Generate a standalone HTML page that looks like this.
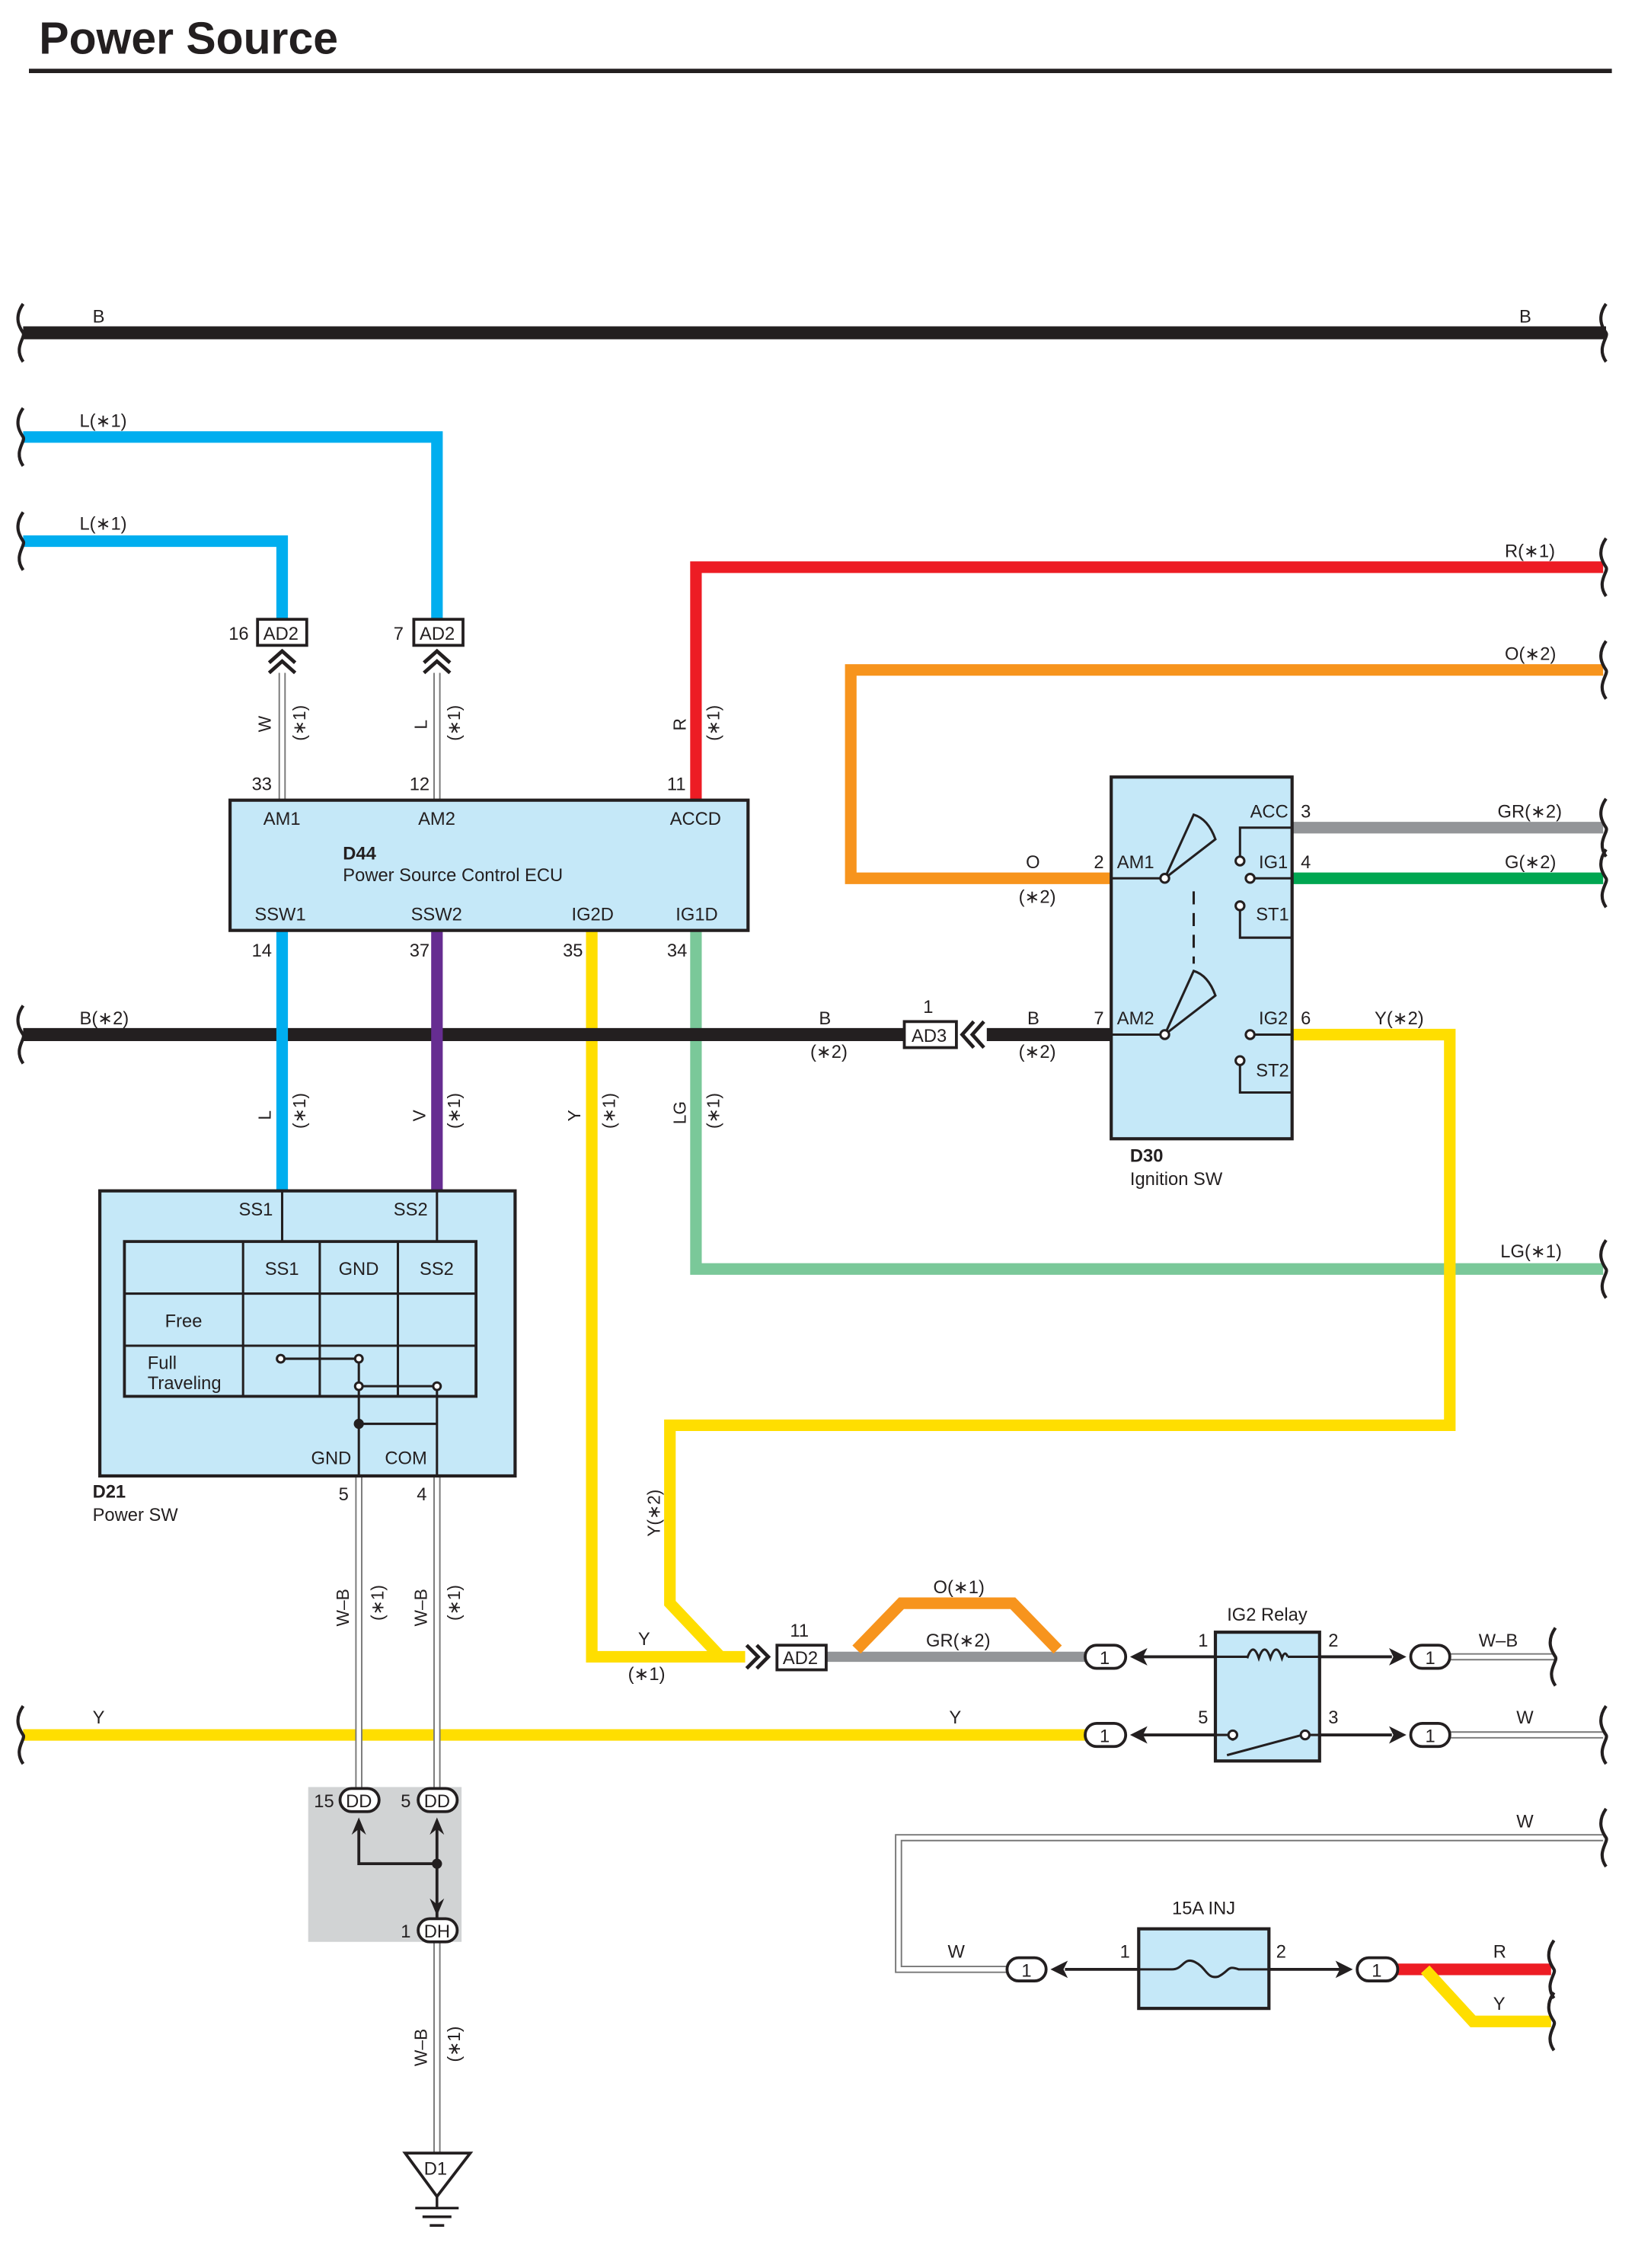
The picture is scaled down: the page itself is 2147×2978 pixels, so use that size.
<!DOCTYPE html>
<html><head><meta charset="utf-8"><style>html,body{margin:0;padding:0;background:#fff}svg{display:block}</style></head>
<body>
<svg width="2147" height="2978" viewBox="0 0 1130 1567.4" preserveAspectRatio="none" xmlns="http://www.w3.org/2000/svg" font-family="Liberation Sans, sans-serif" font-size="12.5" fill="#231f20">
<defs>
<path id="brL" d="M0,-20 C-7,-10 -2,-3 0,0 C2,3 -7,10 0,20" fill="none" stroke="#231f20" stroke-width="2.2"/>
</defs>
<text x="27" y="37" font-size="31" font-weight="bold">Power Source</text>
<line x1="20" y1="49" x2="1114" y2="49" stroke="#231f20" stroke-width="3"/>

<g fill="none" stroke-linejoin="miter">
<line x1="16" y1="230" x2="1110" y2="230" stroke="#231f20" stroke-width="9"/>
<path d="M16,302 H302 V428" stroke="#00aeef" stroke-width="8"/>
<path d="M16,374 H195 V428" stroke="#00aeef" stroke-width="8"/>
<path d="M481,553 V392 H1108" stroke="#ed1c24" stroke-width="8"/>
<path d="M1108,463 H588 V607 H768" stroke="#f7941d" stroke-width="8"/>
<line x1="893" y1="572" x2="1108" y2="572" stroke="#939598" stroke-width="8"/>
<line x1="893" y1="607" x2="1108" y2="607" stroke="#00a651" stroke-width="8"/>
<path d="M481,643 V877 H1108" stroke="#7ac899" stroke-width="8"/>
<path d="M893,715 H1002 V985 H463 V1108 L498,1145" stroke="#ffde00" stroke-width="8"/>
<path d="M409,643 V1145 H515" stroke="#ffde00" stroke-width="8"/>
<line x1="16" y1="715" x2="625" y2="715" stroke="#231f20" stroke-width="9"/>
<line x1="682" y1="715" x2="768" y2="715" stroke="#231f20" stroke-width="9"/>
<line x1="195" y1="643" x2="195" y2="823" stroke="#00aeef" stroke-width="8"/>
<line x1="302" y1="643" x2="302" y2="823" stroke="#662d91" stroke-width="8"/>
<line x1="16" y1="1199" x2="750" y2="1199" stroke="#ffde00" stroke-width="8"/>
<line x1="571" y1="1145" x2="750" y2="1145" stroke="#939598" stroke-width="7"/>
<path d="M592,1140 L623,1108 H700 L731,1140" stroke="#f7941d" stroke-width="8"/>
<line x1="966" y1="1361" x2="1072" y2="1361" stroke="#ed1c24" stroke-width="8"/>
<path d="M985,1361 L1018,1397 H1072" stroke="#ffde00" stroke-width="8"/>
</g>

<g fill="none">
<g stroke="#777" stroke-width="5"><line x1="195" y1="465" x2="195" y2="553"/><line x1="302" y1="465" x2="302" y2="553"/>
<line x1="248" y1="1020" x2="248" y2="1236"/><line x1="302" y1="1020" x2="302" y2="1236"/><line x1="302" y1="1342" x2="302" y2="1488"/>
<line x1="1001" y1="1145" x2="1075" y2="1145"/><line x1="1001" y1="1199" x2="1108" y2="1199"/>
<path d="M1108,1270 H621 V1361 H696"/></g>
<g stroke="#fff" stroke-width="3"><line x1="195" y1="465" x2="195" y2="553"/><line x1="302" y1="465" x2="302" y2="553"/>
<line x1="248" y1="1020" x2="248" y2="1236"/><line x1="302" y1="1020" x2="302" y2="1236"/><line x1="302" y1="1342" x2="302" y2="1488"/>
<line x1="1001" y1="1145" x2="1075" y2="1145"/><line x1="1001" y1="1199" x2="1108" y2="1199"/>
<path d="M1108,1270 H621 V1361 H696"/></g>
<g stroke="#231f20" stroke-width="2">
<line x1="790" y1="1145" x2="840" y2="1145"/><line x1="790" y1="1199" x2="840" y2="1199"/>
<line x1="912" y1="1145" x2="962" y2="1145"/><line x1="912" y1="1199" x2="962" y2="1199"/>
<line x1="736" y1="1361" x2="787" y2="1361"/><line x1="877" y1="1361" x2="926" y2="1361"/></g>
</g>

<g>
<use href="#brL" x="16" y="230"/><use href="#brL" x="1110" y="230"/>
<use href="#brL" x="16" y="302"/><use href="#brL" x="16" y="374"/>
<use href="#brL" x="1110" y="392"/><use href="#brL" x="1110" y="463"/>
<use href="#brL" x="1110" y="572"/><use href="#brL" x="1110" y="607"/>
<use href="#brL" x="16" y="715"/><use href="#brL" x="1110" y="877"/>
<use href="#brL" x="1075" y="1145"/><use href="#brL" x="16" y="1199"/><use href="#brL" x="1110" y="1199"/>
<use href="#brL" x="1110" y="1270"/><use href="#brL" x="1074" y="1361"/><use href="#brL" x="1074" y="1397"/>
</g>

<g stroke="#231f20" stroke-width="2" fill="#fff">
<rect x="178" y="428" width="34" height="18"/><rect x="286" y="428" width="34" height="18"/>
<rect x="625" y="706" width="36" height="18"/><rect x="537" y="1137" width="34" height="17"/>
</g>
<g fill="none" stroke="#231f20" stroke-width="2.5">
<path d="M186,458 L195,450 L204,458 M186,465 L195,457 L204,465"/>
<path d="M293,458 L302,450 L311,458 M293,465 L302,457 L311,465"/>
<path d="M673,706 L665,715 L673,724 M680,706 L672,715 L680,724"/>
<path d="M516,1137 L524,1145 L516,1153 M523,1137 L531,1145 L523,1153"/>
</g>
<text x="182" y="442">AD2</text><text x="290" y="442">AD2</text><text x="630" y="720">AD3</text><text x="541" y="1150">AD2</text>
<text x="158" y="442">16</text><text x="272" y="442">7</text><text x="638" y="700">1</text><text x="546" y="1131">11</text>

<rect x="159" y="553" width="358" height="90" fill="#c5e8f8" stroke="#231f20" stroke-width="2.2"/>
<text x="182" y="570">AM1</text><text x="289" y="570">AM2</text><text x="463" y="570">ACCD</text>
<text x="237" y="594" font-weight="bold">D44</text><text x="237" y="609">Power Source Control ECU</text>
<text x="176" y="636">SSW1</text><text x="284" y="636">SSW2</text><text x="395" y="636">IG2D</text><text x="467" y="636">IG1D</text>
<text x="174" y="546">33</text><text x="283" y="546">12</text><text x="461" y="546">11</text>
<text x="174" y="661">14</text><text x="283" y="661">37</text><text x="389" y="661">35</text><text x="461" y="661">34</text>

<g font-size="12">
<text transform="translate(187,506) rotate(-90)">W</text><text transform="translate(211,512) rotate(-90)">(∗1)</text>
<text transform="translate(295,504) rotate(-90)">L</text><text transform="translate(318,512) rotate(-90)">(∗1)</text>
<text transform="translate(474,505) rotate(-90)">R</text><text transform="translate(497,512) rotate(-90)">(∗1)</text>
<text transform="translate(187,774) rotate(-90)">L</text><text transform="translate(211,780) rotate(-90)">(∗1)</text>
<text transform="translate(294,775) rotate(-90)">V</text><text transform="translate(318,780) rotate(-90)">(∗1)</text>
<text transform="translate(401,775) rotate(-90)">Y</text><text transform="translate(425,780) rotate(-90)">(∗1)</text>
<text transform="translate(474,777) rotate(-90)">LG</text><text transform="translate(497,780) rotate(-90)">(∗1)</text>
<text transform="translate(241,1124) rotate(-90)">W–B</text><text transform="translate(265,1120) rotate(-90)">(∗1)</text>
<text transform="translate(295,1124) rotate(-90)">W–B</text><text transform="translate(318,1120) rotate(-90)">(∗1)</text>
<text transform="translate(295,1428) rotate(-90)">W–B</text><text transform="translate(318,1425) rotate(-90)">(∗1)</text>
<text transform="translate(456,1062) rotate(-90)">Y(∗2)</text>
</g>

<text x="64" y="223">B</text><text x="1050" y="223">B</text>
<text x="55" y="295">L(∗1)</text><text x="55" y="366">L(∗1)</text>
<text x="1040" y="385">R(∗1)</text><text x="1040" y="456">O(∗2)</text>
<text x="1035" y="565">GR(∗2)</text><text x="1040" y="600">G(∗2)</text>
<text x="709" y="600">O</text><text x="704" y="624">(∗2)</text><text x="756" y="600">2</text>
<text x="55" y="708">B(∗2)</text><text x="566" y="708">B</text><text x="560" y="731">(∗2)</text>
<text x="710" y="708">B</text><text x="704" y="731">(∗2)</text><text x="756" y="708">7</text>
<text x="950" y="708">Y(∗2)</text><text x="1037" y="869">LG(∗1)</text>
<text x="64" y="1191">Y</text><text x="656" y="1191">Y</text>
<text x="441" y="1137">Y</text><text x="434" y="1161">(∗1)</text>
<text x="645" y="1101">O(∗1)</text><text x="640" y="1138">GR(∗2)</text>
<text x="1022" y="1138">W–B</text><text x="1048" y="1191">W</text><text x="1048" y="1263">W</text>
<text x="655" y="1353">W</text><text x="1032" y="1353">R</text><text x="1032" y="1389">Y</text>

<rect x="768" y="537" width="125" height="250" fill="#c5e8f8" stroke="#231f20" stroke-width="2.2"/>
<text x="772" y="600">AM1</text><text x="772" y="708">AM2</text>
<text x="864" y="565">ACC</text><text x="870" y="600">IG1</text><text x="868" y="636">ST1</text>
<text x="870" y="708">IG2</text><text x="868" y="744">ST2</text>
<text x="899" y="565">3</text><text x="899" y="600">4</text><text x="899" y="708">6</text>
<text x="781" y="803" font-weight="bold">D30</text><text x="781" y="819">Ignition SW</text>
<g fill="none" stroke="#231f20" stroke-width="1.6">
<path d="M768,607 H803 M768,715 H803"/>
<path d="M805,607 L825,563 Q835,566 840,580 Z"/><path d="M805,715 L825,671 Q835,674 840,688 Z"/>
<line x1="825" y1="616" x2="825" y2="666" stroke-dasharray="9,6"/>
<path d="M893,572 H857 V592 M866,607 H893 M857,628 V648 H893 M866,715 H893 M857,736 V755 H893"/>
<circle cx="805" cy="607" r="3" fill="#fff"/><circle cx="805" cy="715" r="3" fill="#fff"/>
<circle cx="857" cy="595" r="3" fill="#fff"/><circle cx="864" cy="607" r="3" fill="#fff"/><circle cx="857" cy="626" r="3" fill="#fff"/>
<circle cx="864" cy="715" r="3" fill="#fff"/><circle cx="857" cy="733" r="3" fill="#fff"/>
</g>

<rect x="69" y="823" width="287" height="197" fill="#c5e8f8" stroke="#231f20" stroke-width="2.2"/>
<rect x="86" y="858" width="243" height="107" fill="none" stroke="#231f20" stroke-width="2"/>
<g stroke="#231f20" stroke-width="1.6" fill="none">
<path d="M168,858 V965 M221,858 V965 M275,858 V965 M86,894 H329 M86,930 H329"/>
<path d="M195,823 V858 M302,823 V858 M194,939 H248 M248,958 H302 M248,939 V1020 M248,984 H302 M302,958 V1020"/>
<circle cx="194" cy="939" r="2.6" fill="#fff"/><circle cx="248" cy="939" r="2.6" fill="#fff"/>
<circle cx="248" cy="958" r="2.6" fill="#fff"/><circle cx="302" cy="958" r="2.6" fill="#fff"/>
</g>
<circle cx="248" cy="984" r="3.5"/>
<text x="165" y="840">SS1</text><text x="272" y="840">SS2</text>
<text x="183" y="881">SS1</text><text x="234" y="881">GND</text><text x="290" y="881">SS2</text>
<text x="114" y="917">Free</text><text x="102" y="946">Full</text><text x="102" y="960">Traveling</text>
<text x="215" y="1012">GND</text><text x="266" y="1012">COM</text>
<text x="234" y="1037">5</text><text x="288" y="1037">4</text>
<text x="64" y="1035" font-weight="bold">D21</text><text x="64" y="1051">Power SW</text>

<rect x="213" y="1235" width="106" height="107" fill="#d1d3d4"/>
<g stroke="#231f20" stroke-width="2" fill="none">
<path d="M248,1262 V1288 H302 M302,1262 V1326"/>
</g>
<path d="M243,1268 L248,1256 L253,1268 L248,1264Z M297,1268 L302,1256 L307,1268 L302,1264Z M297,1312 L302,1324 L307,1312 L302,1316Z"/>
<circle cx="302" cy="1288" r="3.5"/>
<g stroke="#231f20" stroke-width="2" fill="#fff">
<rect x="235" y="1236" width="27" height="16" rx="8"/><rect x="289" y="1236" width="27" height="16" rx="8"/>
<rect x="289" y="1326" width="27" height="16" rx="8"/>
</g>
<text x="239" y="1249">DD</text><text x="293" y="1249">DD</text><text x="293" y="1339">DH</text>
<text x="217" y="1249">15</text><text x="277" y="1249">5</text><text x="277" y="1339">1</text>

<path d="M280,1488 H325 L302,1518 Z" fill="#fff" stroke="#231f20" stroke-width="2"/>
<text x="293" y="1503">D1</text>
<g stroke="#231f20" stroke-width="1.8"><line x1="302" y1="1518" x2="302" y2="1526"/><line x1="287" y1="1526" x2="317" y2="1526"/><line x1="292" y1="1532" x2="312" y2="1532"/><line x1="297" y1="1538" x2="307" y2="1538"/></g>

<g stroke="#231f20" stroke-width="2" fill="#fff">
<rect x="750" y="1137" width="28" height="16" rx="8"/><rect x="750" y="1191" width="28" height="16" rx="8"/>
<rect x="975" y="1137" width="27" height="16" rx="8"/><rect x="975" y="1191" width="27" height="16" rx="8"/>
<rect x="696" y="1353" width="27" height="16" rx="8"/><rect x="938" y="1353" width="28" height="16" rx="8"/>
</g>
<text x="760" y="1150">1</text><text x="760" y="1204">1</text><text x="985" y="1150">1</text><text x="985" y="1204">1</text>
<text x="706" y="1366">1</text><text x="948" y="1366">1</text>
<path d="M781,1145 L793,1139 L790,1145 L793,1151Z M781,1199 L793,1193 L790,1199 L793,1205Z M972,1145 L960,1139 L963,1145 L960,1151Z M972,1199 L960,1193 L963,1199 L960,1205Z M726,1361 L738,1355 L735,1361 L738,1367Z M935,1361 L923,1355 L926,1361 L923,1367Z"/>

<rect x="840" y="1128" width="72" height="89" fill="#c5e8f8" stroke="#231f20" stroke-width="2.2"/>
<text x="848" y="1120">IG2 Relay</text>
<text x="828" y="1138">1</text><text x="828" y="1191">5</text><text x="918" y="1138">2</text><text x="918" y="1191">3</text>
<g fill="none" stroke="#231f20" stroke-width="1.6">
<path d="M840,1145 H862 M890,1145 H912 M862,1146 q4,-12 8,0 q4,-12 8,0 q4,-12 8,0 q2,-6 4,-1"/>
<path d="M840,1199 H852 M852,1199 V1203 M848,1213 L900,1199 M903,1199 H912"/>
<circle cx="852" cy="1199" r="3" fill="#fff"/><circle cx="902" cy="1199" r="3" fill="#fff"/>
</g>

<rect x="787" y="1333" width="90" height="55" fill="#c5e8f8" stroke="#231f20" stroke-width="2.2"/>
<text x="810" y="1323">15A INJ</text>
<text x="774" y="1353">1</text><text x="882" y="1353">2</text>
<path d="M787,1361 H810 C818,1361 818,1352 826,1356 C834,1360 834,1368 842,1366 C850,1362 848,1358 856,1361 H877" fill="none" stroke="#231f20" stroke-width="1.6"/>
</svg>
</body></html>
